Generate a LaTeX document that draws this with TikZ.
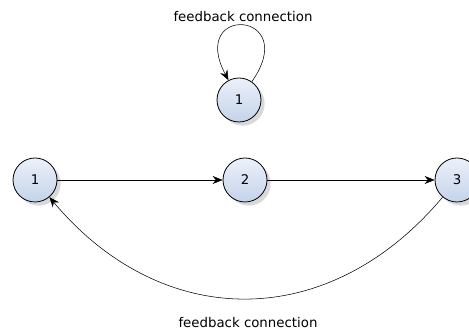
\documentclass[tikz,border=0pt]{standalone}
\usepackage{fontspec}
\setmainfont{DejaVu Sans}
\usepackage{tikz}
\usetikzlibrary{shapes,arrows,arrows.meta,calc,positioning,shadows}
\definecolor{nodetop}{RGB}{236,241,250}
\definecolor{nodebot}{RGB}{196,211,234}
\tikzset{
    -{Stealth[length=7.5pt,width=6pt]},auto,semithick,x=0.75pt,y=0.75pt,
    neuron/.style ={circle, draw, semithick, minimum size=33pt, inner sep=0pt,
        top color=nodetop, bottom color=nodebot, drop shadow={opacity=0.3}},
    lbl/.style = {inner sep=2pt, font=\fontsize{10}{12}\selectfont}
}
\begin{document}
\begin{tikzpicture}
    \useasboundingbox (0,0) rectangle (469,331);
    % Recurrent unit
    \node[neuron] (r1) at (239,231) {1};
    \node[lbl] (top) at (243,314) {feedback connection};
    \path (r1) edge[out=55,in=118,looseness=9.5] (r1);

    % Chain
    \node[neuron] (c1) at (35,151) {1};
    \node[neuron] (c2) at (245,151) {2};
    \node[neuron] (c3) at (457,151) {3};
    \node[lbl] (bottom) at (248,8) {feedback connection};

    % Directed edge
    \path (c1) edge (c2);
    \path (c2) edge (c3);
    \path (c3) edge[out=-130,in=-50,looseness=1.15] (c1);
\end{tikzpicture}
\end{document}
